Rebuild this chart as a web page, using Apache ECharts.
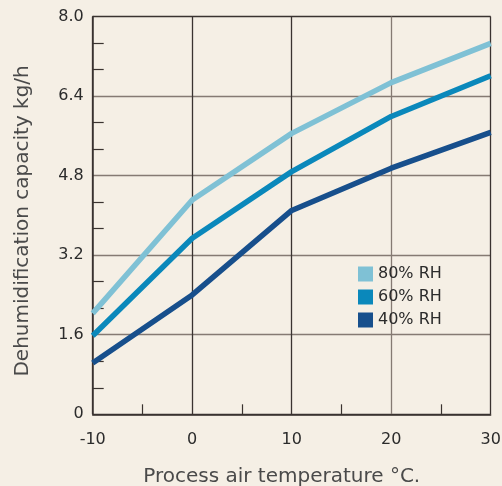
<!DOCTYPE html>
<html>
<head>
<meta charset="utf-8">
<script src="https://cdn.jsdelivr.net/npm/echarts@6/dist/echarts.min.js"></script>
<style>
html,body{margin:0;padding:0;background:#f5efe5;}
#c{width:502px;height:486px;}
</style>
</head>
<body>
<div id="c"></div>
<script>
var temps = [-10, 0, 10, 20, 30];
var rh80 = [2.03, 4.31, 5.65, 6.67, 7.46];
var rh60 = [1.58, 3.54, 4.88, 5.99, 6.81];
var rh40 = [1.03, 2.40, 4.10, 4.95, 5.67];
var seriesNames = ['80% RH', '60% RH', '40% RH'];
var colors = ['#7fc1d5', '#0a88bb', '#174f8c'];

function zip(xs, ys) { return xs.map(function (x, i) { return [x, ys[i]]; }); }
var seriesData = [rh80, rh60, rh40];

var chart = echarts.init(document.getElementById('c'));
var font = 'DejaVu Sans';
var dark = '#3a3330';
var grey = '#857a73';
chart.setOption({
  backgroundColor: '#f5efe5',
  animation: false,
  textStyle: { fontFamily: font },
  grid: { left: 92.7, top: 16.5, right: 11.3, bottom: 71.7, containLabel: false, outerBoundsMode: 'none' },
  legend: {
    orient: 'vertical',
    left: 358, top: 266, padding: 0,
    icon: 'rect',
    itemWidth: 15, itemHeight: 15, itemGap: 7,
    textStyle: { fontSize: 16, color: '#2b2b2b', fontFamily: font },
    data: seriesNames
  },
  xAxis: {
    type: 'value', min: -10, max: 30, interval: 10,
    name: 'Process air temperature °C.',
    nameLocation: 'middle', nameGap: 52,
    nameTextStyle: { fontSize: 20, color: '#4a4a4a', fontFamily: font, padding: [0, 20, 0, 0] },
    axisLine: { onZero: false, lineStyle: { color: dark, width: 1.5 } },
    axisTick: { show: false },
    minorTick: { show: true, splitNumber: 2, length: -10, lineStyle: { color: dark, width: 1.2 } },
    axisLabel: { fontSize: 16, color: '#2b2b2b', margin: 18 },
    splitLine: { show: true, lineStyle: { color: [dark, dark, dark, grey, dark], width: 1.3 } }
  },
  yAxis: {
    type: 'value', min: 0, max: 8, interval: 1.6,
    name: 'Dehumidification capacity kg/h',
    nameLocation: 'middle', nameGap: 60,
    nameTextStyle: { fontSize: 20, color: '#4a4a4a', fontFamily: font, padding: [0, 11, 0, 0] },
    axisLine: { show: true, onZero: false, lineStyle: { color: dark, width: 1.5 } },
    axisTick: { show: false },
    minorTick: { show: true, splitNumber: 3, length: -11, lineStyle: { color: dark, width: 1.2 } },
    axisLabel: {
      fontSize: 16, color: '#2b2b2b', margin: 9,
      formatter: function (v) { return v === 0 ? '0' : v.toFixed(1); }
    },
    splitLine: { show: true, lineStyle: { color: [dark, grey, grey, grey, grey, dark], width: 1.3 } }
  },
  series: seriesNames.map(function (n, i) {
    return {
      name: n, type: 'line',
      data: zip(temps, seriesData[i]),
      symbol: 'none',
      itemStyle: { color: colors[i] },
      lineStyle: { color: colors[i], width: 5.5 },
      z: 5 - i
    };
  })
});
</script>
</body>
</html>
